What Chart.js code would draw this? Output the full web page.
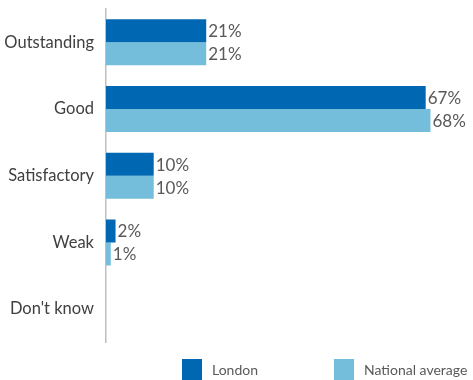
<!DOCTYPE html>
<html>
<head>
<meta charset="utf-8">
<script src="https://cdn.jsdelivr.net/npm/chart.js@4"></script>
<style>
  html, body { margin: 0; padding: 0; background: #fff; }
  #wrap { position: relative; width: 473px; height: 380px; }
</style>
</head>
<body>
<div id="wrap"><canvas id="ratingChart"></canvas></div>
<script>
// Ratings by category, London vs national average (%)
const categories = ['Outstanding', 'Good', 'Satisfactory', 'Weak', "Don't know"];
const londonValues = [21, 67, 10, 2, 0];
const nationalValues = [21, 68, 10, 1, 0];
const seriesNames = ['London', 'National average'];

const COLORS = { london: '#0067b2', national: '#74bedb', axis: '#bfbfbf', label: '#404040', value: '#595959' };
const FONT = 'Lato';

// value labels just past the end of each bar
const valueLabels = {
    id: 'valueLabels',
    afterDatasetsDraw(chart) {
        const ctx = chart.ctx;
        ctx.save();
        ctx.font = '17px ' + FONT;
        ctx.fillStyle = COLORS.value;
        ctx.textAlign = 'left';
        ctx.textBaseline = 'middle';
        chart.data.datasets.forEach((ds, di) => {
            chart.getDatasetMeta(di).data.forEach((bar, i) => {
                if (!ds.data[i]) return;
                ctx.fillText(ds.data[i] + '%', bar.x + 2, bar.y + 1);
            });
        });
        ctx.restore();
    }
};

// square-swatch legend along the bottom edge
const bottomLegend = {
    id: 'bottomLegend',
    afterDraw(chart) {
        const ctx = chart.ctx;
        const slots = [182, 334];
        ctx.save();
        ctx.font = '14px ' + FONT;
        ctx.textBaseline = 'middle';
        chart.data.datasets.forEach((ds, di) => {
            const x = slots[di];
            ctx.fillStyle = ds.backgroundColor;
            ctx.fillRect(x, 359, 20, 21);
            ctx.fillStyle = COLORS.value;
            ctx.fillText(ds.label, x + 30, 370);
        });
        ctx.restore();
    }
};

new Chart(document.getElementById('ratingChart'), {
    type: 'bar',
    data: {
        labels: categories,
        datasets: [
            { label: seriesNames[0], data: londonValues, backgroundColor: COLORS.london },
            { label: seriesNames[1], data: nationalValues, backgroundColor: COLORS.national }
        ]
    },
    options: {
        indexAxis: 'y',
        responsive: true,
        maintainAspectRatio: false,
        animation: false,
        categoryPercentage: 0.69,
        barPercentage: 1,
        layout: { padding: { left: 0, right: 33, top: 9, bottom: 37.5 } },
        plugins: { legend: { display: false }, tooltip: { enabled: false } },
        scales: {
            x: { min: 0, max: 70, display: false },
            y: {
                grid: { display: false },
                border: { display: true, color: COLORS.axis, width: 1.5 },
                ticks: { color: COLORS.label, font: { family: FONT, size: 16.5 }, padding: 4 },
                afterFit(scale) {
                    scale.width = 106;
                    scale.paddingTop = 0;
                    scale.paddingBottom = 0;
                }
            }
        }
    },
    plugins: [valueLabels, bottomLegend]
});
</script>
</body>
</html>
